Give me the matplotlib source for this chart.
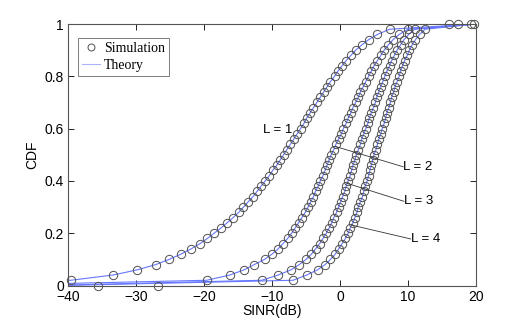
import matplotlib
matplotlib.use("Agg")
import matplotlib.pyplot as plt

# CDF levels of the simulation markers
levels = [0.02, 0.04, 0.06, 0.08, 0.10, 0.12, 0.14, 0.16, 0.18, 0.20,
          0.22, 0.24, 0.26, 0.28, 0.30, 0.32, 0.34, 0.36, 0.38, 0.40,
          0.42, 0.44, 0.46, 0.48, 0.50, 0.52, 0.54, 0.56, 0.58, 0.60,
          0.62, 0.64, 0.66, 0.68, 0.70, 0.72, 0.74, 0.76, 0.78, 0.80,
          0.82, 0.84, 0.86, 0.88, 0.90, 0.92, 0.94, 0.96, 0.98]

# SINR (dB) at each level, per diversity order L
sinr_L1 = [-39.6, -33.4, -29.8, -27.1, -25.1, -23.4, -21.9, -20.6, -19.5, -18.5,
           -17.5, -16.6, -15.7, -14.9, -14.2, -13.5, -12.8, -12.2, -11.6, -11.0,
           -10.4, -9.9, -9.3, -8.8, -8.3, -7.8, -7.3, -6.8, -6.3, -5.8,
           -5.3, -4.9, -4.4, -3.9, -3.4, -2.9, -2.4, -1.9, -1.4, -0.8,
           -0.3, 0.3, 0.9, 1.6, 2.3, 3.2, 4.2, 5.5, 7.3]
sinr_L2 = [-19.6, -16.2, -14.1, -12.6, -11.1, -10.0, -9.1, -8.4, -7.7, -7.1,
           -6.6, -6.1, -5.6, -5.1, -4.7, -4.3, -3.9, -3.6, -3.2, -2.9,
           -2.5, -2.2, -1.9, -1.6, -1.3, -0.9, -0.6, -0.2, 0.2, 0.5,
           0.9, 1.2, 1.6, 1.9, 2.3, 2.7, 3.0, 3.4, 3.8, 4.2,
           4.6, 5.0, 5.5, 6.0, 6.5, 7.1, 7.8, 8.7, 10.0]
sinr_L3 = [-11.5, -9.1, -7.2, -6.0, -5.0, -4.2, -3.6, -3.0, -2.5, -2.0,
           -1.6, -1.2, -0.9, -0.5, -0.2, 0.1, 0.4, 0.7, 0.9, 1.2,
           1.5, 1.7, 1.9, 2.2, 2.4, 2.7, 3.0, 3.2, 3.5, 3.8,
           4.1, 4.3, 4.6, 4.9, 5.2, 5.4, 5.7, 6.0, 6.3, 6.6,
           6.9, 7.3, 7.6, 8.0, 8.4, 8.9, 9.4, 10.1, 11.0]
sinr_L4 = [-6.9, -4.9, -3.3, -2.2, -1.4, -0.7, -0.2, 0.3, 0.8, 1.2,
           1.5, 1.9, 2.2, 2.5, 2.7, 3.0, 3.3, 3.5, 3.7, 4.0,
           4.2, 4.4, 4.6, 4.8, 5.0, 5.3, 5.5, 5.7, 6.0, 6.2,
           6.5, 6.7, 6.9, 7.2, 7.4, 7.6, 7.9, 8.1, 8.4, 8.7,
           8.9, 9.2, 9.5, 9.9, 10.2, 10.6, 11.1, 11.7, 12.5]

# extreme simulation samples (min at CDF 0, max at CDF 1)
sim_min_x = [None, -35.6, -26.7, None]
sim_max_x = [16.0, 17.4, 19.2, 19.7]

# theory curve end points
theory_x_start = -40.0
theory_y_start = [0.02, 0.008, 0.002, 0.0005]
theory_x_end = 20.0
theory_y_end = 1.0

curve_labels = ["L = 1", "L = 2", "L = 3", "L = 4"]
label_pos = [(-11.3, 0.595), (9.3, 0.454), (9.4, 0.322), (10.4, 0.178)]
arrow_tip = [None, (-0.6, 0.531), (1.0, 0.391), (1.7, 0.231)]

xticks = [-40, -30, -20, -10, 0, 10, 20]
yticks = [0, 0.2, 0.4, 0.6, 0.8, 1]
ytick_labels = ["0", "0.2", "0.4", "0.6", "0.8", "1"]

W, H, DPI = 526, 322, 100
fig = plt.figure(figsize=(W / DPI, H / DPI), dpi=DPI)
ax = fig.add_axes([68 / W, 1 - 285.5 / H, 408 / W, 261.5 / H])

line_color = "#6677ff"
marker_edge = "#505050"

series = [sinr_L1, sinr_L2, sinr_L3, sinr_L4]
for i, xs in enumerate(series):
    tx = [theory_x_start] + xs + [theory_x_end]
    ty = [theory_y_start[i]] + levels + [theory_y_end]
    ax.plot(tx, ty, color=line_color, lw=0.8, zorder=2,
            label="Theory" if i == 0 else None)
    mx = list(xs) + [sim_max_x[i]]
    my = list(levels) + [1.0]
    if sim_min_x[i] is not None:
        mx = [sim_min_x[i]] + mx
        my = [0.0] + my
    ax.plot(mx, my, linestyle="none", marker="o", markersize=6,
            markerfacecolor="none", markeredgecolor=marker_edge,
            markeredgewidth=0.7, zorder=3, clip_on=False,
            label="Simulation" if i == 0 else None)

for i, lab in enumerate(curve_labels):
    tx, ty = label_pos[i]
    ax.text(tx, ty, lab, fontsize=9.5, family="Liberation Sans",
            ha="left", va="center", zorder=4)
    if arrow_tip[i] is not None:
        ax.plot([tx, arrow_tip[i][0]], [ty, arrow_tip[i][1]],
                color="#333333", lw=0.6, zorder=4)

ax.set_xlim(-40, 20)
ax.set_ylim(0, 1)
ax.set_xticks(xticks)
ax.set_yticks(yticks)
ax.set_yticklabels(ytick_labels)
ax.tick_params(direction="in", length=4, width=0.6, top=True, right=True,
               labelsize=10, colors="#000000", pad=3)
for lbl in ax.get_xticklabels() + ax.get_yticklabels():
    lbl.set_family("Liberation Sans")
for s in ax.spines.values():
    s.set_color("#555555")
    s.set_linewidth(0.8)
ax.set_xlabel("SINR(dB)", fontsize=10, family="Liberation Sans", labelpad=0)
ax.set_ylabel("CDF", fontsize=10, family="Liberation Sans", labelpad=4)

handles, labels = ax.get_legend_handles_labels()
order = [labels.index("Simulation"), labels.index("Theory")]
leg = ax.legend([handles[j] for j in order], [labels[j] for j in order],
                loc="upper left", bbox_to_anchor=(10 / 408, (285.5 - 38) / 261.5),
                borderaxespad=0, fancybox=False, frameon=True,
                prop={"family": "Liberation Serif", "size": 10},
                handlelength=1.3, handletextpad=0.25, borderpad=0.3,
                labelspacing=0.25)
leg.get_frame().set_edgecolor("#444444")
leg.get_frame().set_linewidth(0.6)
for h in leg.legend_handles:
    h.set_markersize(5)
leg.legend_handles[1].set_color("#aab2ff")

fig.savefig("out.png", dpi=DPI)
